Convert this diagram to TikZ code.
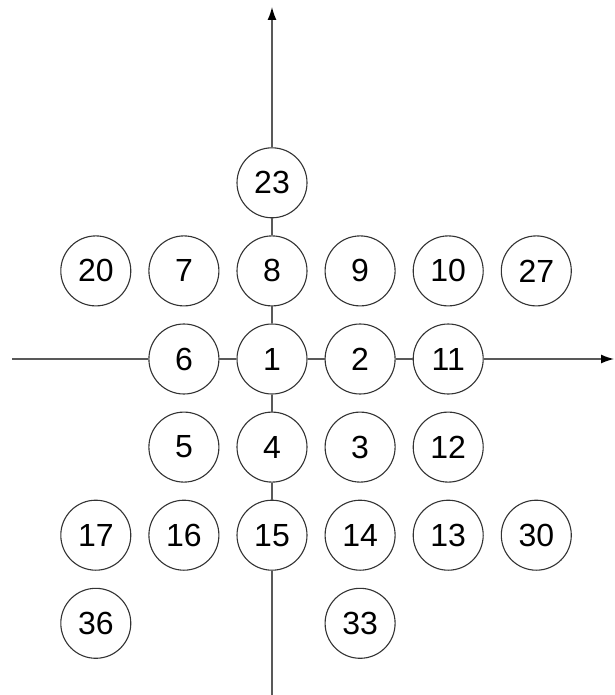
\documentclass[tikz,border=0pt]{standalone}
\usepackage{fontspec}
\setmainfont{Liberation Sans}
\usetikzlibrary{arrows.meta}
\usetikzlibrary{positioning}

\begin{document}
\begin{tikzpicture}[
        x=1pt, y=-1pt,
        node distance=17pt and 17pt,
        cell/.style={circle, draw=black!80, line width=1.1pt, fill=white, minimum size=70pt, inner sep=0pt, font=\fontsize{32}{32}\selectfont},
        axis/.style={draw=black!65, line width=1.4pt},
        arrow/.style={axis, -{Latex[length=13pt, width=9pt, color=black]}}
    ]
        \useasboundingbox (0,0) rectangle (614,695);

        % centre and axis cells
        \node[cell] (c1) at (272,359) {1};
        \node[cell, right=of c1] (c2) {2};
        \node[cell, right=of c2] (c11) {11};
        \node[cell, left=of c1] (c6) {6};
        \node[cell, above=of c1] (c8) {8};
        \node[cell, above=of c8] (c23) {23};
        \node[cell, below=of c1] (c4) {4};
        \node[cell, below=of c4] (c15) {15};

        % upper row
        \node[cell, left=of c8] (c7) {7};
        \node[cell, left=of c7] (c20) {20};
        \node[cell, right=of c8] (c9) {9};
        \node[cell, right=of c9] (c10) {10};
        \node[cell, right=of c10] (c27) {27};

        % lower rows
        \node[cell, left=of c4] (c5) {5};
        \node[cell, right=of c4] (c3) {3};
        \node[cell, right=of c3] (c12) {12};
        \node[cell, left=of c15] (c16) {16};
        \node[cell, left=of c16] (c17) {17};
        \node[cell, right=of c15] (c14) {14};
        \node[cell, right=of c14] (c13) {13};
        \node[cell, right=of c13] (c30) {30};
        \node[cell, below=of c17] (c36) {36};
        \node[cell, below=of c14] (c33) {33};

        % axis ends
        \coordinate (ytop) at (272,7);
        \coordinate (ybot) at (272,695);
        \coordinate (xleft) at (12,359);
        \coordinate (xright) at (614,359);

        % vertical axis
        \draw[arrow] (c23) -- (ytop);
        \draw[axis] (c23) -- (c8);
        \draw[axis] (c8) -- (c1);
        \draw[axis] (c1) -- (c4);
        \draw[axis] (c4) -- (c15);
        \draw[axis] (c15) -- (ybot);

        % horizontal axis
        \draw[axis] (xleft) -- (c6);
        \draw[axis] (c6) -- (c1);
        \draw[axis] (c1) -- (c2);
        \draw[axis] (c2) -- (c11);
        \draw[arrow] (c11) -- (xright);
\end{tikzpicture}
\end{document}
